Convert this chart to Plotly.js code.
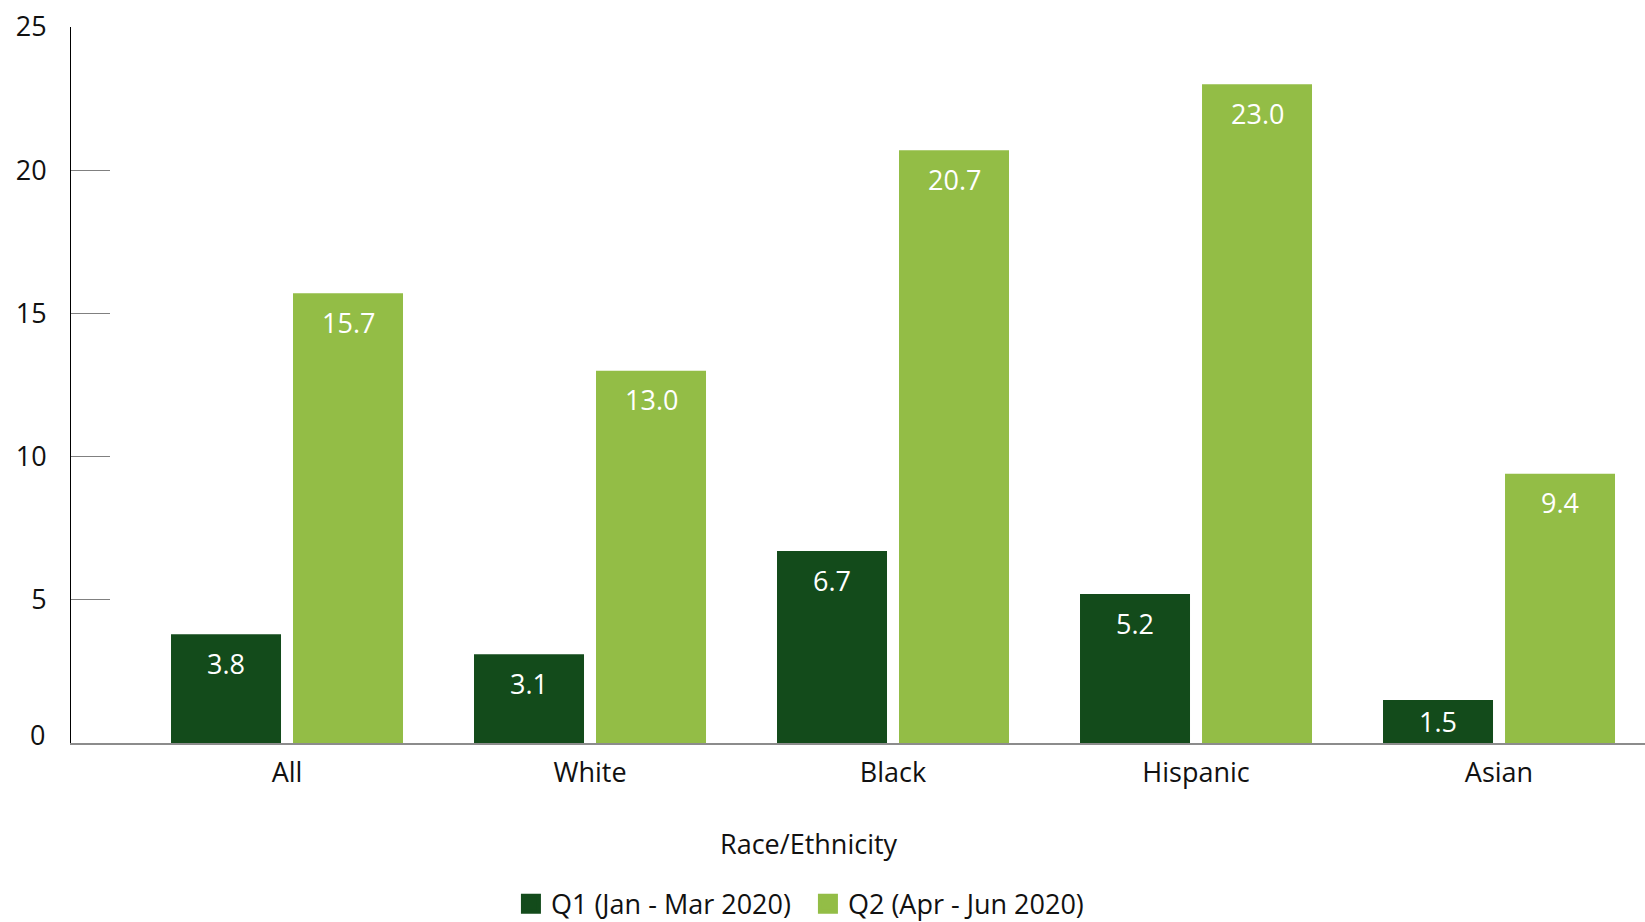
<!DOCTYPE html>
<html>
<head>
<meta charset="utf-8">
<script src="https://cdn.plot.ly/plotly-3.0.1.min.js"></script>
<style>
  html, body { margin: 0; padding: 0; background: #ffffff; }
  #chart { width: 1645px; height: 922px; }
</style>
</head>
<body>
<div id="chart"></div>
<script>
const categories = ["All", "White", "Black", "Hispanic", "Asian"];
const q1Values = [3.8, 3.1, 6.7, 5.2, 1.5];
const q2Values = [15.7, 13.0, 20.7, 23.0, 9.4];
const seriesNames = ["Q1 (Jan - Mar 2020)", "Q2 (Apr - Jun 2020)"];
const yTickValues = [0, 5, 10, 15, 20, 25];
const axisTitle = "Race/Ethnicity";

const darkGreen = "#134b1b";
const lightGreen = "#93bd46";
const FONT = "Open Sans, Noto Sans, sans-serif";
const FS = 27;

const traces = [
  { type: "bar", name: seriesNames[0], x: categories, y: q1Values,
    marker: { color: darkGreen }, hoverinfo: "x+y", showlegend: false },
  { type: "bar", name: seriesNames[1], x: categories, y: q2Values,
    marker: { color: lightGreen }, hoverinfo: "x+y", showlegend: false },
  // legend-only entries (square swatches)
  { type: "scatter", mode: "markers", name: seriesNames[0], x: [null], y: [null],
    marker: { symbol: "square", size: 16, color: darkGreen, line: { color: darkGreen, width: 4 } },
    showlegend: true, hoverinfo: "skip" },
  { type: "scatter", mode: "markers", name: seriesNames[1], x: [null], y: [null],
    marker: { symbol: "square", size: 16, color: lightGreen, line: { color: lightGreen, width: 4 } },
    showlegend: true, hoverinfo: "skip" }
];

// plot height in px (922 - 27 - 179) over y range 25
const pxPerUnit = 716 / 25;
const groupOffset = 0.2013;
const annotations = [];
[q1Values, q2Values].forEach((vals, s) => {
  vals.forEach((v, i) => {
    annotations.push({
      xref: "x", yref: "y",
      x: i + (s === 0 ? -groupOffset : groupOffset),
      y: v,
      text: v.toFixed(1),
      showarrow: false,
      xanchor: "center", yanchor: "middle",
      yshift: -Math.min(29, v * pxPerUnit / 2),
      font: { family: FONT, size: FS, color: "#ffffff" }
    });
  });
});
// zero tick label is lifted above the baseline, as in the reference
annotations.push({
  xref: "paper", yref: "y",
  x: 0, y: yTickValues[0],
  text: String(yTickValues[0]),
  showarrow: false,
  xanchor: "right", yanchor: "middle",
  xshift: -24, yshift: 9,
  font: { family: FONT, size: FS, color: "#111111" }
});
annotations.push({
  xref: "paper", yref: "paper",
  x: 0.469, y: -0.14,
  text: axisTitle, showarrow: false,
  xanchor: "center", yanchor: "middle",
  font: { family: FONT, size: FS, color: "#111111" }
});

const layout = {
  width: 1645, height: 922,
  margin: { l: 71, r: 0, t: 27, b: 179, pad: 0, autoexpand: false },
  paper_bgcolor: "#ffffff", plot_bgcolor: "#ffffff",
  font: { family: FONT, size: FS, color: "#111111" },
  barmode: "group",
  bargap: 0.1947,
  bargroupgap: 0.0984,
  showlegend: true,
  legend: {
    orientation: "h",
    x: 0.2795, xanchor: "left",
    y: -0.225, yanchor: "middle",
    font: { family: FONT, size: FS, color: "#111111" },
    bgcolor: "rgba(0,0,0,0)",
    traceorder: "normal",
    itemsizing: "trace",
    entrywidth: 252,
    entrywidthmode: "pixels"
  },
  xaxis: {
    type: "category",
    range: [-0.7129, 4.4818],
    showgrid: false, zeroline: false,
    showline: true, linecolor: "#8c8c8c", linewidth: 2,
    ticks: "",
    ticklabelstandoff: 5,
    tickfont: { family: FONT, size: FS, color: "#111111" },
    fixedrange: true
  },
  yaxis: {
    range: [0, 25],
    tickvals: yTickValues,
    ticktext: yTickValues.map(v => (v === 0 ? "" : String(v))),
    showgrid: false, zeroline: false,
    showline: true, linecolor: "#000000", linewidth: 1,
    ticks: "inside", ticklen: 39, tickwidth: 1, tickcolor: "#808080",
    ticklabelstandoff: 18,
    tickfont: { family: FONT, size: FS, color: "#111111" },
    fixedrange: true
  },
  annotations: annotations
};

Plotly.newPlot("chart", traces, layout, { displayModeBar: false, staticPlot: true });
</script>
</body>
</html>
